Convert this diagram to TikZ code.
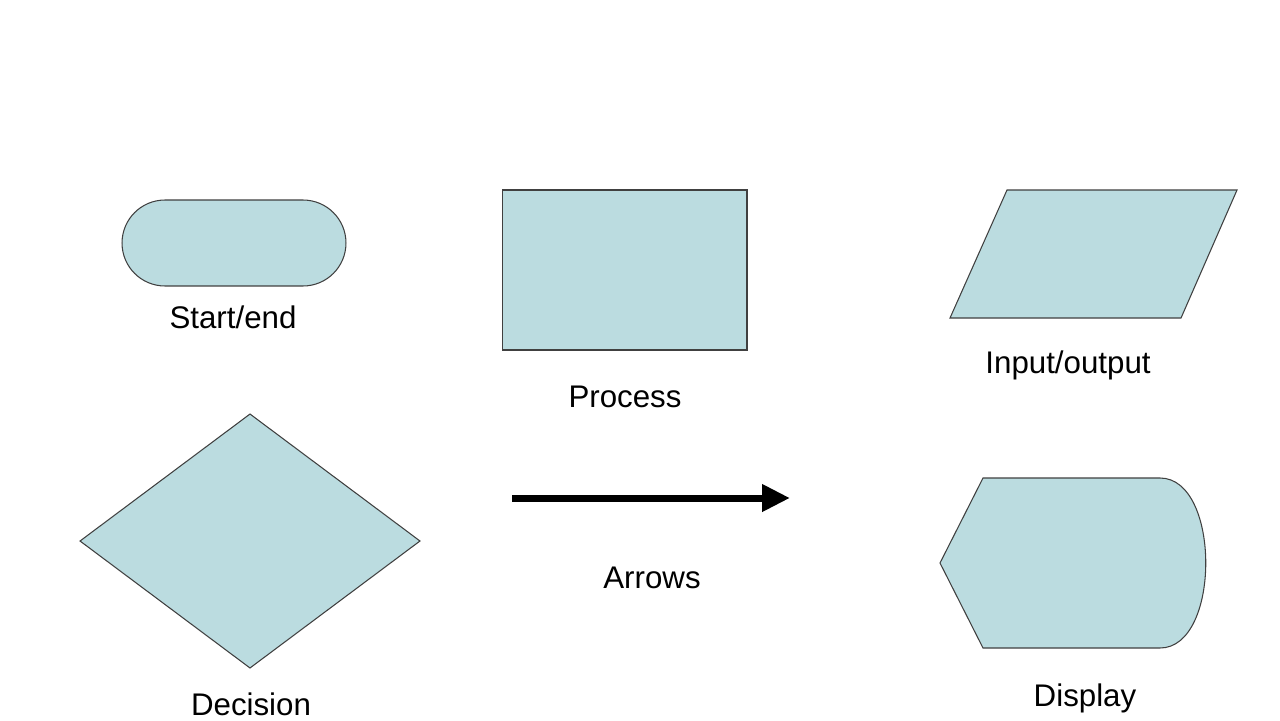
\documentclass[tikz,border=0pt]{standalone}
\usepackage{fontspec}
\setmainfont{Liberation Sans}
\usepackage{xcolor}
\usepackage{tikz}
\usetikzlibrary{arrows.meta,positioning,shapes.geometric,shapes.misc}
\definecolor{azulforma}{RGB}{187,220,224}
\definecolor{contorno}{RGB}{64,64,64}
\tikzset{
  forma/.style={draw=contorno,fill=azulforma,line width=0.6pt,inner sep=0pt,outer sep=0pt},
  inicio/.style={forma,rounded rectangle,minimum width=4.48cm,minimum height=1.72cm},
  processo/.style={forma,rectangle,minimum width=4.9cm,minimum height=3.2cm},
  decisao/.style={forma,diamond,minimum width=6.8cm,minimum height=5.08cm},
  rotulo/.style={font=\fontsize{17.8}{21}\selectfont,text=black,inner sep=0pt},
  seta/.style={-{Triangle[length=5.6mm,width=5.2mm]},line width=0.14cm,black}
}
\begin{document}
\begin{tikzpicture}[x=0.02cm,y=-0.02cm]
\useasboundingbox[fill=white] (0,0) rectangle (1280,720);
% formas
\node[inicio] (inicio) at (234,243) {};
\node[processo] (processo) at (624.5,270) {};
\node[decisao] (decisao) at (250,541) {};
\draw[forma] (1007,190) -- (1237,190) -- (1181,318) -- (950,318) -- cycle;
\coordinate (es) at (1093,254);
\draw[forma] (940,563) -- (983,478) -- (1160,478)
  .. controls (1221,478) and (1221,648) .. (1160,648) -- (983,648) -- cycle;
\coordinate (ex) at (1085,563);
% seta
\coordinate (setaA) at (512,498);
\coordinate (setaB) at (790,498);
\draw[seta] (setaA) -- (setaB);
% rotulos
\node[rotulo] (tinicio) at (233,317) {Start/end};
\node[rotulo] (tprocesso) at (625,397) {Process};
\node[rotulo] (tes) at (1068,365) {Input/output};
\node[rotulo] (tdecisao) at (251,704) {Decision};
\node[rotulo] (tseta) at (652,578) {Arrows};
\node[rotulo] (tex) at (1085,698) {Display};
\end{tikzpicture}
\end{document}
